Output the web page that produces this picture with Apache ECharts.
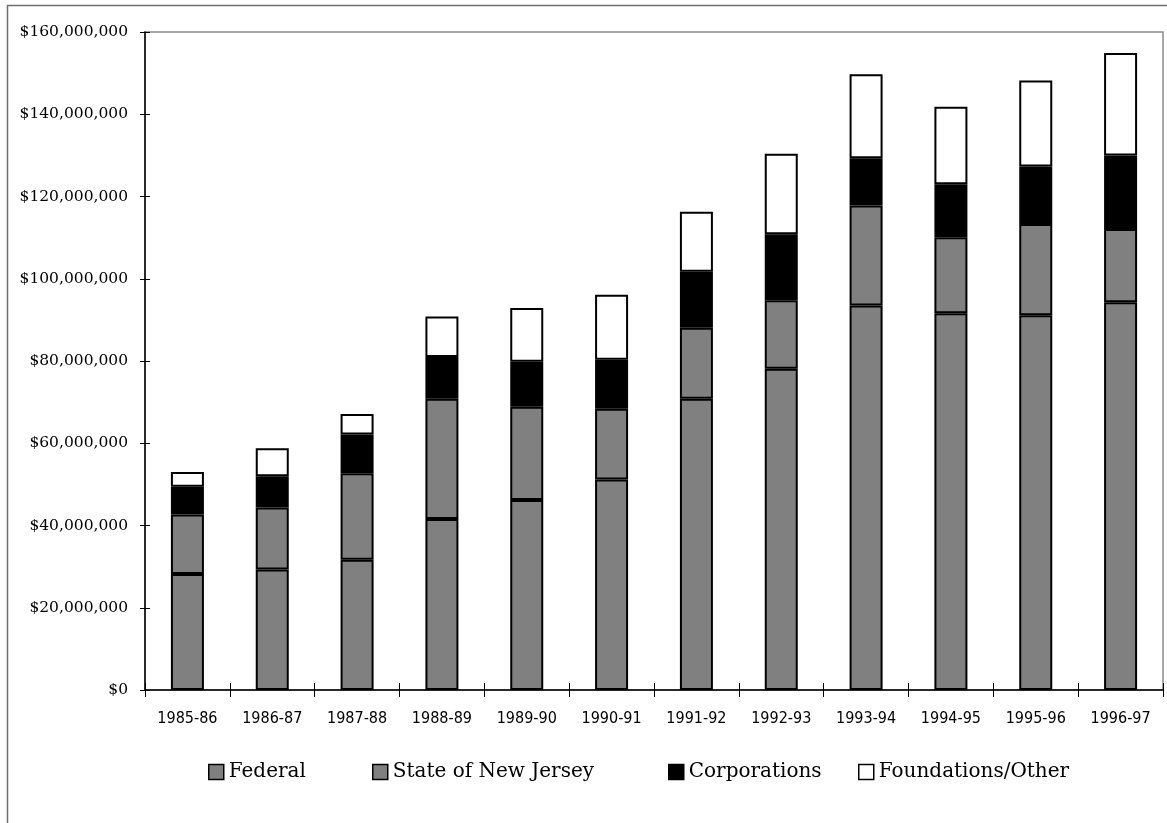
<!DOCTYPE html>
<html>
<head>
<meta charset="utf-8">
<title>Funding by Source, 1985-86 to 1996-97</title>
<script src="https://cdn.jsdelivr.net/npm/echarts@6/dist/echarts.min.js"></script>
<style>
  html, body { margin: 0; padding: 0; background: #fff; }
  #chart { width: 1167px; height: 823px; }
</style>
</head>
<body>
<div id="chart"></div>
<script>
// Fiscal years
const years = ['1985-86', '1986-87', '1987-88', '1988-89', '1989-90', '1990-91',
               '1991-92', '1992-93', '1993-94', '1994-95', '1995-96', '1996-97'];

// Funding by source, in millions of dollars
const federal      = [28.2, 29.3, 31.7, 41.6, 46.2, 51.2, 70.8, 78.1, 93.5, 91.6, 91.1, 94.3];
const stateNJ      = [14.5, 15.1, 21.0, 29.2, 22.7, 17.2, 17.3, 16.7, 24.3, 18.5, 22.2, 17.8];
const corporations = [ 6.7,  7.6,  9.4, 10.2, 10.9, 11.9, 13.6, 16.0, 11.5, 12.9, 14.0, 17.9];
const foundations  = [ 3.6,  6.8,  5.0,  9.8, 13.1, 15.8, 14.6, 19.6, 20.4, 18.8, 20.9, 24.9];

// Value-axis ticks, in millions
const yMin = 0, yMax = 160, yStep = 20;

const seriesNames = ['Federal', 'State of New Jersey', 'Corporations', 'Foundations/Other'];
const seriesData = [federal, stateNJ, corporations, foundations];
const seriesColors = ['#808080', '#808080', '#000000', '#ffffff'];

const serif = '"DejaVu Serif", "Liberation Serif", serif';
const narrow = '"DejaVu Sans Condensed", "Liberation Sans Narrow", "Liberation Sans", sans-serif';

const money = v => '$' + Math.round(v * 1000000).toLocaleString('en-US');

const chart = echarts.init(document.getElementById('chart'), null, { renderer: 'canvas' });

const legendLeft = [208, 372, 668, 858];

chart.setOption({
  animation: false,
  backgroundColor: '#ffffff',
  graphic: [{
    type: 'rect',
    shape: { x: 7.5, y: 5.5, width: 3000, height: 3000 },
    style: { fill: 'none', stroke: '#6e6e6e', lineWidth: 1.5 },
    silent: true,
    z: -10
  }],
  grid: {
    left: 145, right: 4, top: 32, bottom: 133,
    show: true,
    borderColor: '#8a8a8a',
    borderWidth: 1.5,
    backgroundColor: 'transparent'
  },
  legend: seriesNames.map((name, i) => ({
    data: [name],
    left: legendLeft[i],
    top: 762,
    padding: 0,
    itemWidth: 15,
    itemHeight: 15,
    itemGap: 0,
    icon: 'rect',
    itemStyle: { borderColor: '#000', borderWidth: 1.5 },
    textStyle: { fontFamily: serif, fontSize: 20, color: '#000' },
    selectedMode: false
  })),
  xAxis: [{
    type: 'category',
    data: years,
    axisLine: { show: true, lineStyle: { color: '#000', width: 1.5 } },
    axisTick: { show: true, length: 7, lineStyle: { color: '#000', width: 1 } },
    axisLabel: { fontFamily: narrow, fontSize: 16, color: '#000', margin: 21, interval: 0 },
    splitLine: { show: false }
  }, {
    type: 'category',
    data: years,
    position: 'bottom',
    axisLine: { show: false },
    axisTick: { show: true, inside: true, length: 7, lineStyle: { color: '#000', width: 1 } },
    axisLabel: { show: false },
    splitLine: { show: false }
  }],
  yAxis: [{
    type: 'value',
    min: yMin, max: yMax, interval: yStep,
    axisLine: { show: true, lineStyle: { color: '#000', width: 1.5 } },
    axisTick: { show: true, length: 5, lineStyle: { color: '#000', width: 1 } },
    axisLabel: { fontFamily: serif, fontSize: 15.5, color: '#000', margin: 17, formatter: money },
    splitLine: { show: false }
  }, {
    type: 'value',
    min: yMin, max: yMax, interval: yStep,
    position: 'left',
    axisLine: { show: false },
    axisTick: { show: true, inside: true, length: 5, lineStyle: { color: '#000', width: 1 } },
    axisLabel: { show: false },
    splitLine: { show: false }
  }],
  series: seriesNames.map((name, i) => ({
    name: name,
    type: 'bar',
    stack: 'total',
    barWidth: 33,
    data: seriesData[i],
    itemStyle: { color: seriesColors[i], borderColor: '#000', borderWidth: 2 },
    emphasis: { disabled: true }
  }))
});
</script>
</body>
</html>
